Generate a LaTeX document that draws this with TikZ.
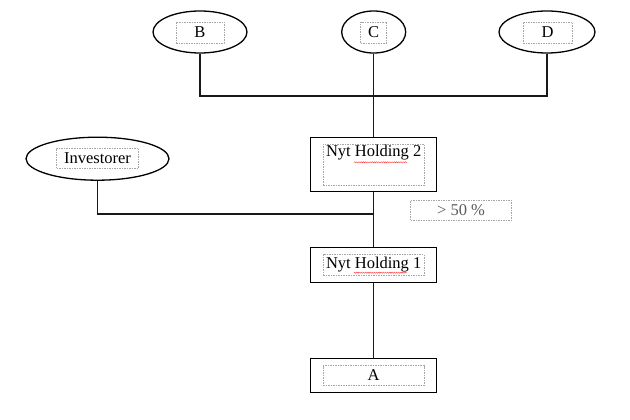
\documentclass[tikz,border=0pt]{standalone}
\usepackage{fontspec}
\setmainfont{Liberation Serif}
\usetikzlibrary{shapes.geometric,decorations.pathmorphing}
\begin{document}
\begin{tikzpicture}[x=1pt,y=-1pt,
  oval/.style={draw=black,ellipse,line width=1.3pt,inner sep=0pt},
  boxed/.style={draw=black,rectangle,line width=1.3pt,inner sep=0pt},
  lbl/.style={draw=gray!70,dashed,dash pattern=on 1.5pt off 1pt,line width=0.6pt,rectangle,inner sep=0pt,
    font=\fontsize{16.5}{19}\selectfont,text=black},
  conn/.style={line width=1.3pt,draw=black!90},
  squig/.style={draw=red!80,line width=0.4pt,decorate,decoration={snake,amplitude=0.6pt,segment length=2.2pt}}]
\useasboundingbox (0,0) rectangle (630,420);
% ellipses
\node[oval,minimum width=94pt,minimum height=42pt] (B) at (200,32) {};
\node[lbl,minimum width=48pt,minimum height=21pt] (Bt) at (200,32.5) {B};
\node[oval,minimum width=64pt,minimum height=42pt] (C) at (373.7,32) {};
\node[lbl,minimum width=26pt,minimum height=21pt] (Ct) at (373.7,32.5) {C};
\node[oval,minimum width=96pt,minimum height=42pt] (D) at (547,32) {};
\node[lbl,minimum width=49pt,minimum height=21pt] (Dt) at (547.5,32.5) {D};
\node[oval,minimum width=143pt,minimum height=43pt] (I) at (97.5,158.7) {};
\node[lbl,minimum width=82pt,minimum height=20pt] (It) at (97.5,158.3) {Investorer};
% boxes
\node[boxed,minimum width=126pt,minimum height=54.4pt] (N2) at (373.7,164.5) {};
\node[lbl,minimum width=100.7pt,minimum height=41.3pt] (N2t) at (373.7,164.7) {};
\node[font=\fontsize{16.5}{19}\selectfont,text=black,inner sep=0pt] (N2l) at (373.7,153) {Nyt Holding 2};
\node[lbl,minimum width=100.6pt,minimum height=20.4pt,text=black!65] (P) at (461,210.5) {> 50 \%};
\node[boxed,minimum width=126pt,minimum height=35.4pt] (N1) at (373.7,265) {};
\node[lbl,minimum width=100.7pt,minimum height=21pt] (N1t) at (373.7,264.8) {Nyt Holding 1};
\node[boxed,minimum width=126pt,minimum height=34.4pt] (A) at (373.7,375.5) {};
\node[lbl,minimum width=100.7pt,minimum height=19.6pt] (At) at (373.7,375.5) {A};
% spell-check underlines
\coordinate (s1) at (354,162.3); \coordinate (s2) at (407,162.3);
\coordinate (s3) at (354,272.7); \coordinate (s4) at (407,272.7);
\draw[squig] (s1) -- (s2);
\draw[squig] (s3) -- (s4);
% connectors
\coordinate (j1) at (373.7,96);
\coordinate (j2) at (373.7,214);
\draw[conn] (B.south) -- (B.south |- j1) -- (D.south |- j1) -- (D.south);
\draw[conn] (C.south) -- (N2.north);
\draw[conn] (I.south) |- (j2);
\draw[conn] (N2.south) -- (N1.north);
\draw[conn] (N1.south) -- (A.north);
\end{tikzpicture}
\end{document}
